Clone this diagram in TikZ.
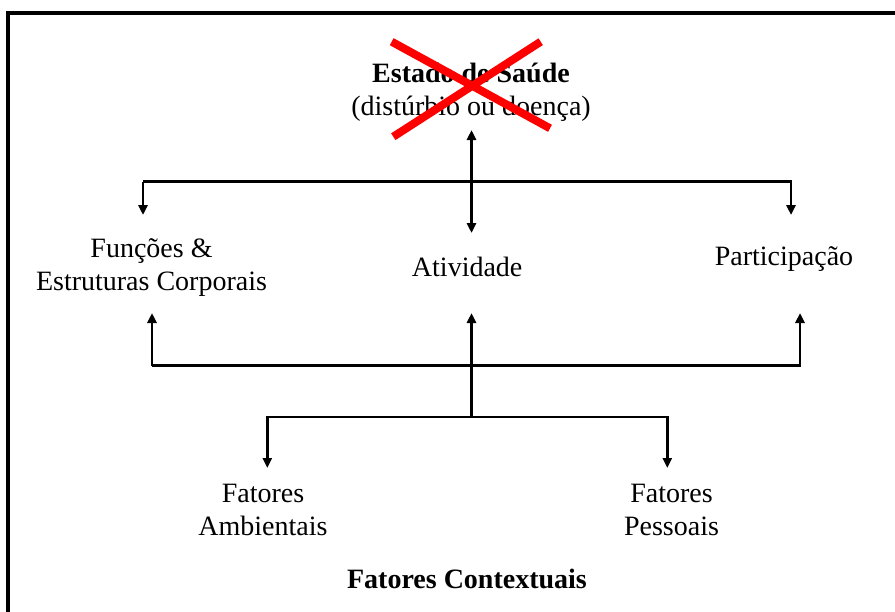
\documentclass[tikz,border=0pt]{standalone}
\usepackage{fontspec}
\setmainfont{Liberation Serif}
\usetikzlibrary{arrows.meta}
\begin{document}
\begin{tikzpicture}[x=1pt,y=-1pt,
  conn/.style={line width=2.6pt},
  tipend/.style={-{Triangle[length=10pt,width=9pt]}},
  bothend/.style={{Triangle[length=10pt,width=9pt]}-{Triangle[length=10pt,width=9pt]}},
  lbl/.style={font=\fontsize{28}{32.5}\selectfont, align=center, inner sep=0pt},
  bold/.style={lbl, font=\fontsize{28}{32.5}\selectfont\bfseries},
  frame/.style={line width=4pt, line join=miter},
  cross/.style={line width=8pt, draw={rgb,255:red,255;green,0;blue,0}}]
\useasboundingbox (0,0) rectangle (895,611);
% frame (partly cropped)
\draw[frame] (8,615) -- (8,13) -- (899,13);
% nodes
\node[lbl] (estado) at (471,92) {\textbf{Estado de Saúde}\\(distúrbio ou doença)};
\node[lbl] (funcoes) at (151.5,267.5) {Funções \&\\Estruturas Corporais};
\node[lbl, anchor=base] (atividade) at (467.2,276) {Atividade};
\node[lbl, anchor=base] (particip) at (784,265) {Participação};
\node[lbl] (ambient) at (263,510) {Fatores\\Ambientais};
\node[lbl] (pessoais) at (671.5,510) {Fatores\\Pessoais};
\node[bold, anchor=base] (context) at (467,588) {Fatores Contextuais};
% red cross
\draw[cross] (391.7,41.7) coordinate (xa) -- (550,128.3) coordinate (xb);
\draw[cross] (540.7,41.7) coordinate (xc) -- (393.3,136.7) coordinate (xd);
% junction coordinates
\coordinate (eBot) at (471.5,130);
\coordinate (aTop) at (471.5,233);
\coordinate (uL) at (143,181.5);
\coordinate (uR) at (791,181.5);
\coordinate (fTop) at (143,215);
\coordinate (pTop) at (791,215);
\coordinate (lL) at (152,365.5);
\coordinate (lR) at (800,365.5);
\coordinate (fBot) at (152,313);
\coordinate (aBot) at (471.5,313);
\coordinate (pBot) at (800,313);
\coordinate (mid) at (471.5,417);
\coordinate (cL) at (267.3,417);
\coordinate (cR) at (667.3,417);
\coordinate (ambTop) at (267.3,468);
\coordinate (pesTop) at (667.3,468);
% connectors
\draw[conn, bothend] (eBot) -- (aTop);
\draw[conn, tipend] (uL) -- (uR) -- (pTop);
\draw[conn, tipend] (uL) -- (fTop);
\draw[conn, tipend] (lL) -- (lR) -- (pBot);
\draw[conn, tipend] (lL) -- (fBot);
\draw[conn, tipend] (mid) -- (aBot);
\draw[conn, tipend] (mid) -- (cL) -- (ambTop);
\draw[conn, tipend] (mid) -- (cR) -- (pesTop);
\end{tikzpicture}
\end{document}
